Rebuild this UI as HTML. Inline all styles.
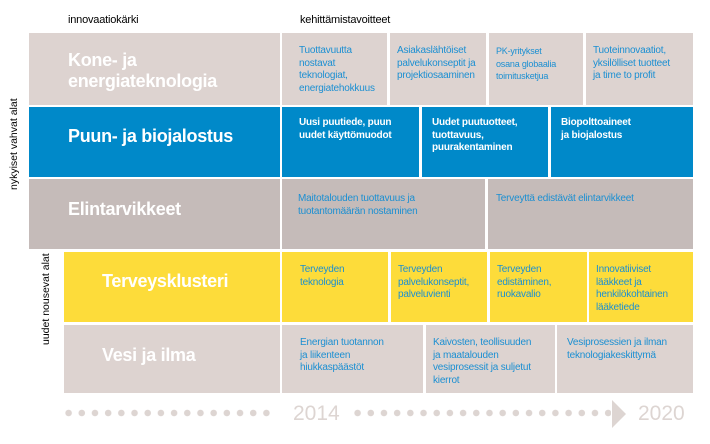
<!DOCTYPE html>
<html><head><meta charset="utf-8"><style>
body{margin:0;width:710px;height:444px;background:#fff;position:relative;overflow:hidden;font-family:"Liberation Sans Narrow","Liberation Sans",sans-serif;}
.c{position:absolute;box-sizing:border-box;}
.t{position:absolute;color:#fff;font-size:18px;font-weight:bold;letter-spacing:-0.3px;line-height:21px;}
.s{position:absolute;font-size:10px;line-height:12.6px;color:#1b8fd2;letter-spacing:-0.2px;}
.w{color:#fff;font-weight:bold;}
.h{position:absolute;font-size:11px;color:#000;top:14px;letter-spacing:-0.2px;}
.v{position:absolute;font-size:10.5px;color:#000;transform:rotate(-90deg);transform-origin:left top;white-space:nowrap;}
.dots{position:absolute;top:409px;height:8px;background-image:radial-gradient(circle,#ddd5d2 3px,transparent 3.5px);background-size:13.2px 8px;}
.yr{position:absolute;top:402px;font-size:21px;color:#ddd5d2;font-family:"Liberation Sans Narrow","Liberation Sans",sans-serif;}
</style></head><body>
<div class="h" style="left:68px">innovaatiokärki</div>
<div class="h" style="left:300px">kehittämistavoitteet</div>
<div class="v" style="left:8px;top:190px">nykyiset vahvat alat</div>
<div class="v" style="left:40px;top:345px">uudet nousevat alat</div>

<!-- row1 -->
<div class="c" style="left:29px;top:33px;width:251px;height:72px;background:#ddd3d0"></div>
<div class="t" style="left:68px;top:50px">Kone- ja<br>energiateknologia</div>
<div class="c" style="left:282px;top:33px;width:105px;height:72px;background:#ddd3d0"><div class="s" style="left:17px;top:12px">Tuottavuutta<br>nostavat<br>teknologiat,<br>energiatehokkuus</div></div>
<div class="c" style="left:390px;top:33px;width:96px;height:72px;background:#ddd3d0"><div class="s" style="left:7px;top:12px">Asiakaslähtöiset<br>palvelukonseptit ja<br>projektiosaaminen</div></div>
<div class="c" style="left:489px;top:33px;width:94px;height:72px;background:#ddd3d0"><div class="s" style="left:7px;top:12px;font-size:9px">PK-yritykset<br>osana globaalia<br>toimitusketjua</div></div>
<div class="c" style="left:586px;top:33px;width:107px;height:72px;background:#ddd3d0"><div class="s" style="left:7px;top:12px">Tuoteinnovaatiot,<br>yksilölliset tuotteet<br>ja time to profit</div></div>

<!-- row2 -->
<div class="c" style="left:29px;top:107px;width:251px;height:70px;background:#0089c9"></div>
<div class="t" style="left:68px;top:126px">Puun- ja biojalostus</div>
<div class="c" style="left:282px;top:107px;width:137px;height:70px;background:#0089c9"><div class="s w" style="left:17px;top:10px">Uusi puutiede, puun<br>uudet käyttömuodot</div></div>
<div class="c" style="left:422px;top:107px;width:126px;height:70px;background:#0089c9"><div class="s w" style="left:10px;top:10px">Uudet puutuotteet,<br>tuottavuus,<br>puurakentaminen</div></div>
<div class="c" style="left:551px;top:107px;width:142px;height:70px;background:#0089c9"><div class="s w" style="left:10px;top:10px">Biopolttoaineet<br>ja biojalostus</div></div>

<!-- row3 -->
<div class="c" style="left:29px;top:179px;width:251px;height:70px;background:#c5bbb9"></div>
<div class="t" style="left:68px;top:199px">Elintarvikkeet</div>
<div class="c" style="left:282px;top:179px;width:203px;height:70px;background:#c5bbb9"><div class="s" style="left:16px;top:14px">Maitotalouden tuottavuus ja<br>tuotantomäärän nostaminen</div></div>
<div class="c" style="left:488px;top:179px;width:205px;height:70px;background:#c5bbb9"><div class="s" style="left:8px;top:14px">Terveyttä edistävät elintarvikkeet</div></div>

<!-- row4 -->
<div class="c" style="left:64px;top:252px;width:216px;height:70px;background:#fddc3a"></div>
<div class="t" style="left:102px;top:271px">Terveysklusteri</div>
<div class="c" style="left:282px;top:252px;width:106px;height:70px;background:#fddc3a"><div class="s" style="left:18px;top:12px">Terveyden<br>teknologia</div></div>
<div class="c" style="left:391px;top:252px;width:96px;height:70px;background:#fddc3a"><div class="s" style="left:7px;top:12px">Terveyden<br>palvelukonseptit,<br>palveluvienti</div></div>
<div class="c" style="left:490px;top:252px;width:97px;height:70px;background:#fddc3a"><div class="s" style="left:7px;top:12px">Terveyden<br>edistäminen,<br>ruokavalio</div></div>
<div class="c" style="left:589px;top:252px;width:104px;height:70px;background:#fddc3a"><div class="s" style="left:7px;top:12px">Innovatiiviset<br>lääkkeet ja<br>henkilökohtainen<br>lääketiede</div></div>

<!-- row5 -->
<div class="c" style="left:64px;top:325px;width:216px;height:68px;background:#ddd3d0"></div>
<div class="t" style="left:102px;top:345px">Vesi ja ilma</div>
<div class="c" style="left:282px;top:325px;width:141px;height:68px;background:#ddd3d0"><div class="s" style="left:18px;top:12px">Energian tuotannon<br>ja liikenteen<br>hiukkaspäästöt</div></div>
<div class="c" style="left:426px;top:325px;width:129px;height:68px;background:#ddd3d0"><div class="s" style="left:7px;top:12px">Kaivosten, teollisuuden<br>ja maatalouden<br>vesiprosessit ja suljetut<br>kierrot</div></div>
<div class="c" style="left:557px;top:325px;width:136px;height:68px;background:#ddd3d0"><div class="s" style="left:10px;top:12px">Vesiprosessien ja ilman<br>teknologiakeskittymä</div></div>

<!-- timeline -->
<div class="dots" style="left:62px;width:214px"></div>
<div class="yr" style="left:293px">2014</div>
<div class="dots" style="left:351px;width:260px"></div>
<svg style="position:absolute;left:612px;top:400px" width="16" height="28"><polygon points="0,0 14,14 0,28" fill="#ddd5d2"/></svg>
<div class="yr" style="left:638px">2020</div>
</body></html>
